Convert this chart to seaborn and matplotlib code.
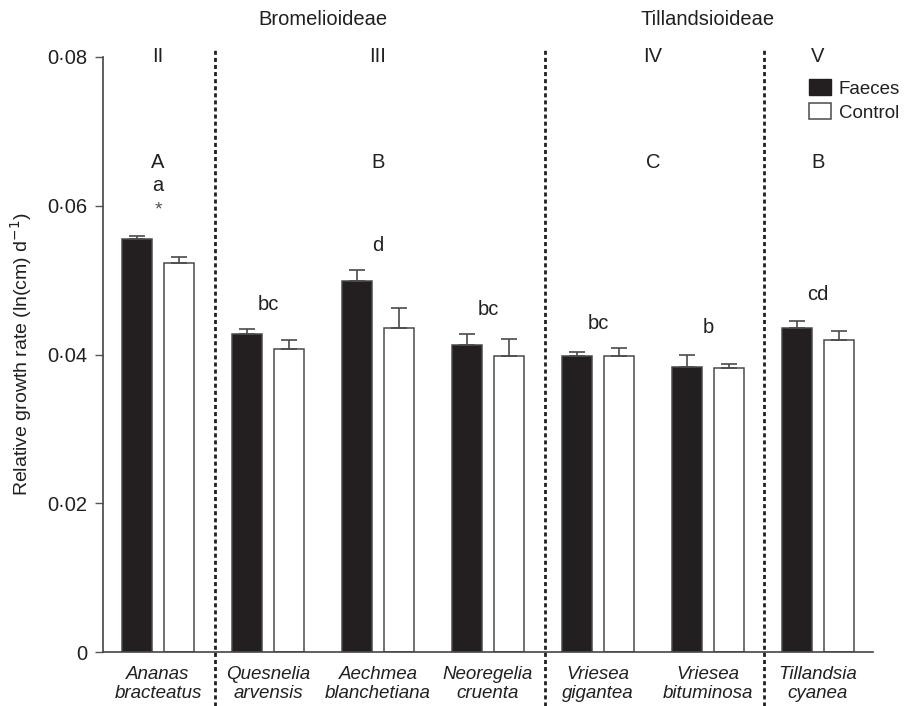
import numpy as np
import pandas as pd
import matplotlib
matplotlib.use("Agg")
import matplotlib.pyplot as plt
from matplotlib.patches import Patch
import seaborn as sns

# Species (two-line italic labels) and treatment means / standard errors
species = ["Ananas\nbracteatus", "Quesnelia\narvensis", "Aechmea\nblanchetiana",
           "Neoregelia\ncruenta", "Vriesea\ngigantea", "Vriesea\nbituminosa",
           "Tillandsia\ncyanea"]
treatments = ["Faeces", "Control"]
faeces_mean = [0.0555, 0.0428, 0.0499, 0.0413, 0.0398, 0.0383, 0.0436]
faeces_se = [0.0004, 0.0006, 0.0014, 0.0014, 0.0006, 0.0017, 0.0009]
control_mean = [0.0523, 0.0408, 0.0436, 0.0398, 0.0398, 0.0382, 0.0419]
control_se = [0.0008, 0.0012, 0.0027, 0.0023, 0.0011, 0.0005, 0.0013]

ytick_values = [0, 0.02, 0.04, 0.06, 0.08]
ytick_labels = ["0", "0·02", "0·04", "0·06", "0·08"]

# Significance letters above each species
species_letters = ["", "bc", "d", "bc", "bc", "b", "cd"]
species_letter_y = [0.0, 0.0467, 0.0547, 0.0461, 0.0442, 0.0436, 0.0480]

# Clade groups (roman numerals, capital letters) and subfamilies
clade_names = ["II", "III", "IV", "V"]
clade_letters = ["A", "B", "C", "B"]
clade_x = [0, 2, 4.5, 6]
subfamilies = ["Bromelioideae", "Tillandsioideae"]
subfamily_x = [1.5, 5.0]
divider_x = [0.52, 3.52, 5.51]

ink = "#231f20"

sns.set_style("white")
plt.rcParams["font.family"] = ["Liberation Sans", "DejaVu Sans"]

df = pd.DataFrame({
    "species": species * 2,
    "treatment": ["Faeces"] * len(species) + ["Control"] * len(species),
    "rgr": faeces_mean + control_mean,
    "se": faeces_se + control_se,
})

fig = plt.figure(figsize=(9.06, 7.06), dpi=100)
ax = fig.add_axes([103 / 906, 1 - 652 / 706, 770 / 906, 595 / 706])

sns.barplot(data=df, x="species", y="rgr", hue="treatment", order=species,
            hue_order=treatments, palette={"Faeces": ink, "Control": "white"},
            errorbar=None, width=0.76, gap=0.28, legend=False, ax=ax,
            saturation=1)

# Outline the bars and add upward-only standard error bars
for cont, se in zip(ax.containers, [faeces_se, control_se]):
    xs, hs = [], []
    for p in cont.patches:
        p.set_edgecolor("#4a4a4a")
        p.set_linewidth(1.1)
        xs.append(p.get_x() + p.get_width() / 2)
        hs.append(p.get_height())
    ax.errorbar(xs, hs, yerr=[np.zeros(len(se)), se], fmt="none",
                ecolor="#4a4a4a", elinewidth=1.2, capsize=5.5, capthick=1.2,
                zorder=1)

ax.set_xlim(-0.5, 6.5)
ax.set_ylim(0, 0.08)
ax.set_yticks(ytick_values)
ax.set_yticklabels(ytick_labels, fontsize=14.5, color=ink)
ax.set_xticks(range(len(species)))
ax.set_xticklabels(species, fontstyle="italic", fontsize=13.5, color=ink,
                   linespacing=1.2)
ax.tick_params(axis="x", direction="in", length=5, width=1, color="#555555",
               pad=10)
ax.tick_params(axis="y", direction="out", length=6, width=1, color="#555555",
               pad=5, left=True)
ax.set_xlabel("")
ax.set_ylabel(r"Relative growth rate (ln(cm) d$^{-1}$)", fontsize=14,
              color=ink)
ax.yaxis.set_label_coords(-0.089, 0.5)

sns.despine(ax=ax)
for side in ["left", "bottom"]:
    ax.spines[side].set_color("#444444")
    ax.spines[side].set_linewidth(1.2)

# Dotted dividers between clades, running through the tick labels
for x in divider_x:
    ax.plot([x, x], [-0.0073, 0.0809], color=ink, lw=2.0,
            linestyle=(0, (1.45, 1.1)), clip_on=False, zorder=3)

# Annotations
for x, name, letter in zip(clade_x, clade_names, clade_letters):
    ax.text(x, 0.0800, name, ha="center", va="center", fontsize=14.5,
            color=ink)
    ax.text(x, 0.0658, letter, ha="center", va="center", fontsize=14.5,
            color=ink)
ax.text(0, 0.0627, "a", ha="center", va="center", fontsize=14.5, color=ink)
ax.text(0, 0.0594, "*", ha="center", va="center", fontsize=14, color="#555555")
for i, (lab, y) in enumerate(zip(species_letters, species_letter_y)):
    if lab:
        ax.text(i, y, lab, ha="center", va="center", fontsize=14.5, color=ink)
for x, name in zip(subfamily_x, subfamilies):
    ax.text(x, 0.0850, name, ha="center", va="center", fontsize=14.5,
            color=ink, clip_on=False)

handles = [Patch(facecolor=ink, edgecolor=ink, linewidth=1.0, label="Faeces"),
           Patch(facecolor="white", edgecolor="#4a4a4a", linewidth=1.1,
                 label="Control")]
fig.legend(handles=handles, loc="upper left",
           bbox_to_anchor=(809 / 906, 1 - 79 / 706), frameon=False,
           fontsize=13.5, handlelength=1.15, handleheight=0.95,
           handletextpad=0.45, labelspacing=0.3, borderpad=0,
           borderaxespad=0, labelcolor=ink)

fig.savefig("out.png", dpi=100)
